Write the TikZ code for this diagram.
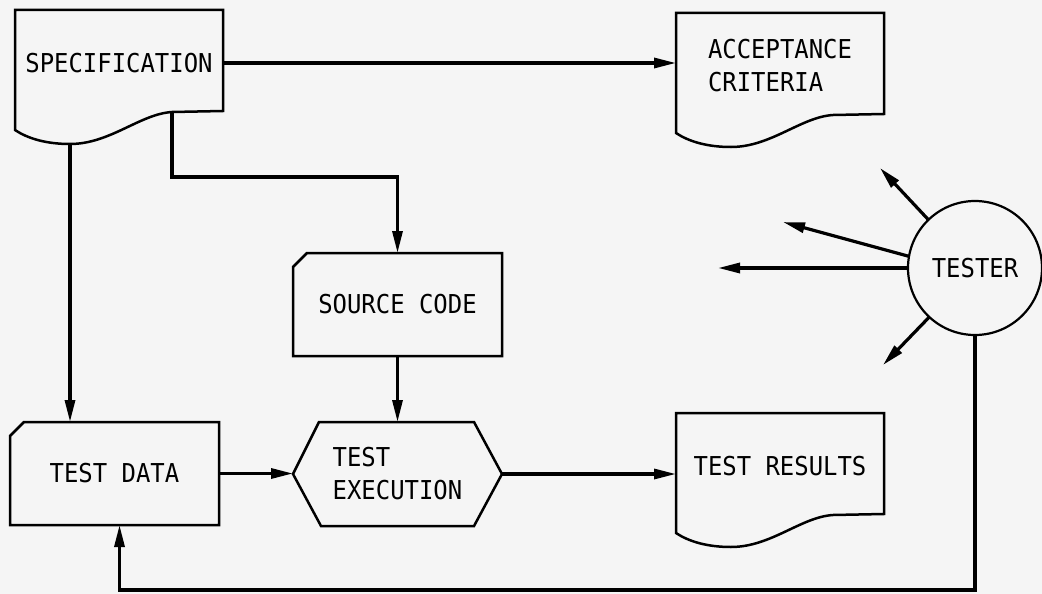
\documentclass[tikz,border=0pt]{standalone}
\usepackage{fontspec}
\setmonofont[FakeStretch=0.92]{DejaVu Sans Mono}
\usetikzlibrary{arrows.meta,calc}
\tikzset{
  boxline/.style={line width=2.5pt, line join=miter},
  conn/.style={line width=3.2pt},
  arr/.style={conn, -{Triangle[length=22pt,width=10pt]}},
  lbl/.style={font=\ttfamily\fontsize{26}{33}\selectfont, inner sep=0pt, outer sep=0pt, align=left},
  frame/.style={lbl, minimum width=208pt, minimum height=106pt, anchor=north west},
  docshape/.pic={
    \draw[boxline] (0,120) -- (0,0) -- (208,0) -- (208,101) -- (157,102)
      .. controls (125,104) and (95,134) .. (55,134)
      .. controls (30,134) and (12,128) .. (0,120) -- cycle;
    \coordinate (-low) at (55,134);
    \coordinate (-tap) at (157,102);
  },
  card/.pic={
    \draw[boxline] (0,14) -- (14,0) -- (209,0) -- (209,103) -- (0,103) -- cycle;
  },
  hexa/.pic={
    \draw[boxline] (0,52) -- (26,0) -- (181,0) -- (209,52) -- (181,104) -- (28,104) -- cycle;
  }
}
\begin{document}
\begin{tikzpicture}[x=1pt,y=-1pt]
\path[use as bounding box, fill=black!4] (0,0) rectangle (1042,594);

% nodes and outlines
\node[frame] (spec) at (15,10) {SPECIFICATION};
\pic (speco) at (spec.north west) {docshape};
\node[frame] (acc) at (676,13) {ACCEPTANCE\\CRITERIA};
\pic (acco) at (acc.north west) {docshape};
\node[frame] (res) at (676,413) {TEST RESULTS};
\pic (reso) at (res.north west) {docshape};
\node[frame, minimum width=209pt, minimum height=103pt] (src) at (293,253) {SOURCE CODE};
\pic at (src.north west) {card};
\node[frame, minimum width=209pt, minimum height=103pt] (tdata) at (10,422) {TEST DATA};
\pic at (tdata.north west) {card};
\node[frame, minimum width=209pt, minimum height=104pt] (exec) at (293,422) {TEST\\EXECUTION};
\pic at (exec.north west) {hexa};
\node[lbl, draw, circle, line width=2.2pt, minimum size=134pt] (tester) at (975,268) {TESTER};

% connectors
\draw[arr] (spec.east) -- (spec.east -| acc.west);
\draw[arr] (speco-low) -- (speco-low |- tdata.north);
\draw[arr] (speco-tap) |- ($(src.north)+(0,-76)$) -- (src.north);
\draw[arr] (src.south) -- (exec.north);
\draw[arr] (tdata.east) -- (tdata.east -| exec.west);
\draw[arr] (exec.east) -- (exec.east -| res.west);
\coordinate (fb) at (975,590);
\draw[arr] (tester.south) -- (fb) -| ([xshift=5pt]tdata.south);

\coordinate (o1) at (880,168);
\coordinate (o2) at (783,222);
\coordinate (o3) at (718,268);
\coordinate (o4) at (883,365);
\draw[arr] (tester.134) -- (o1);
\draw[arr] (tester.170) -- (o2);
\draw[arr] (tester.west) -- (o3);
\draw[arr] (tester.227) -- (o4);
\end{tikzpicture}
\end{document}
